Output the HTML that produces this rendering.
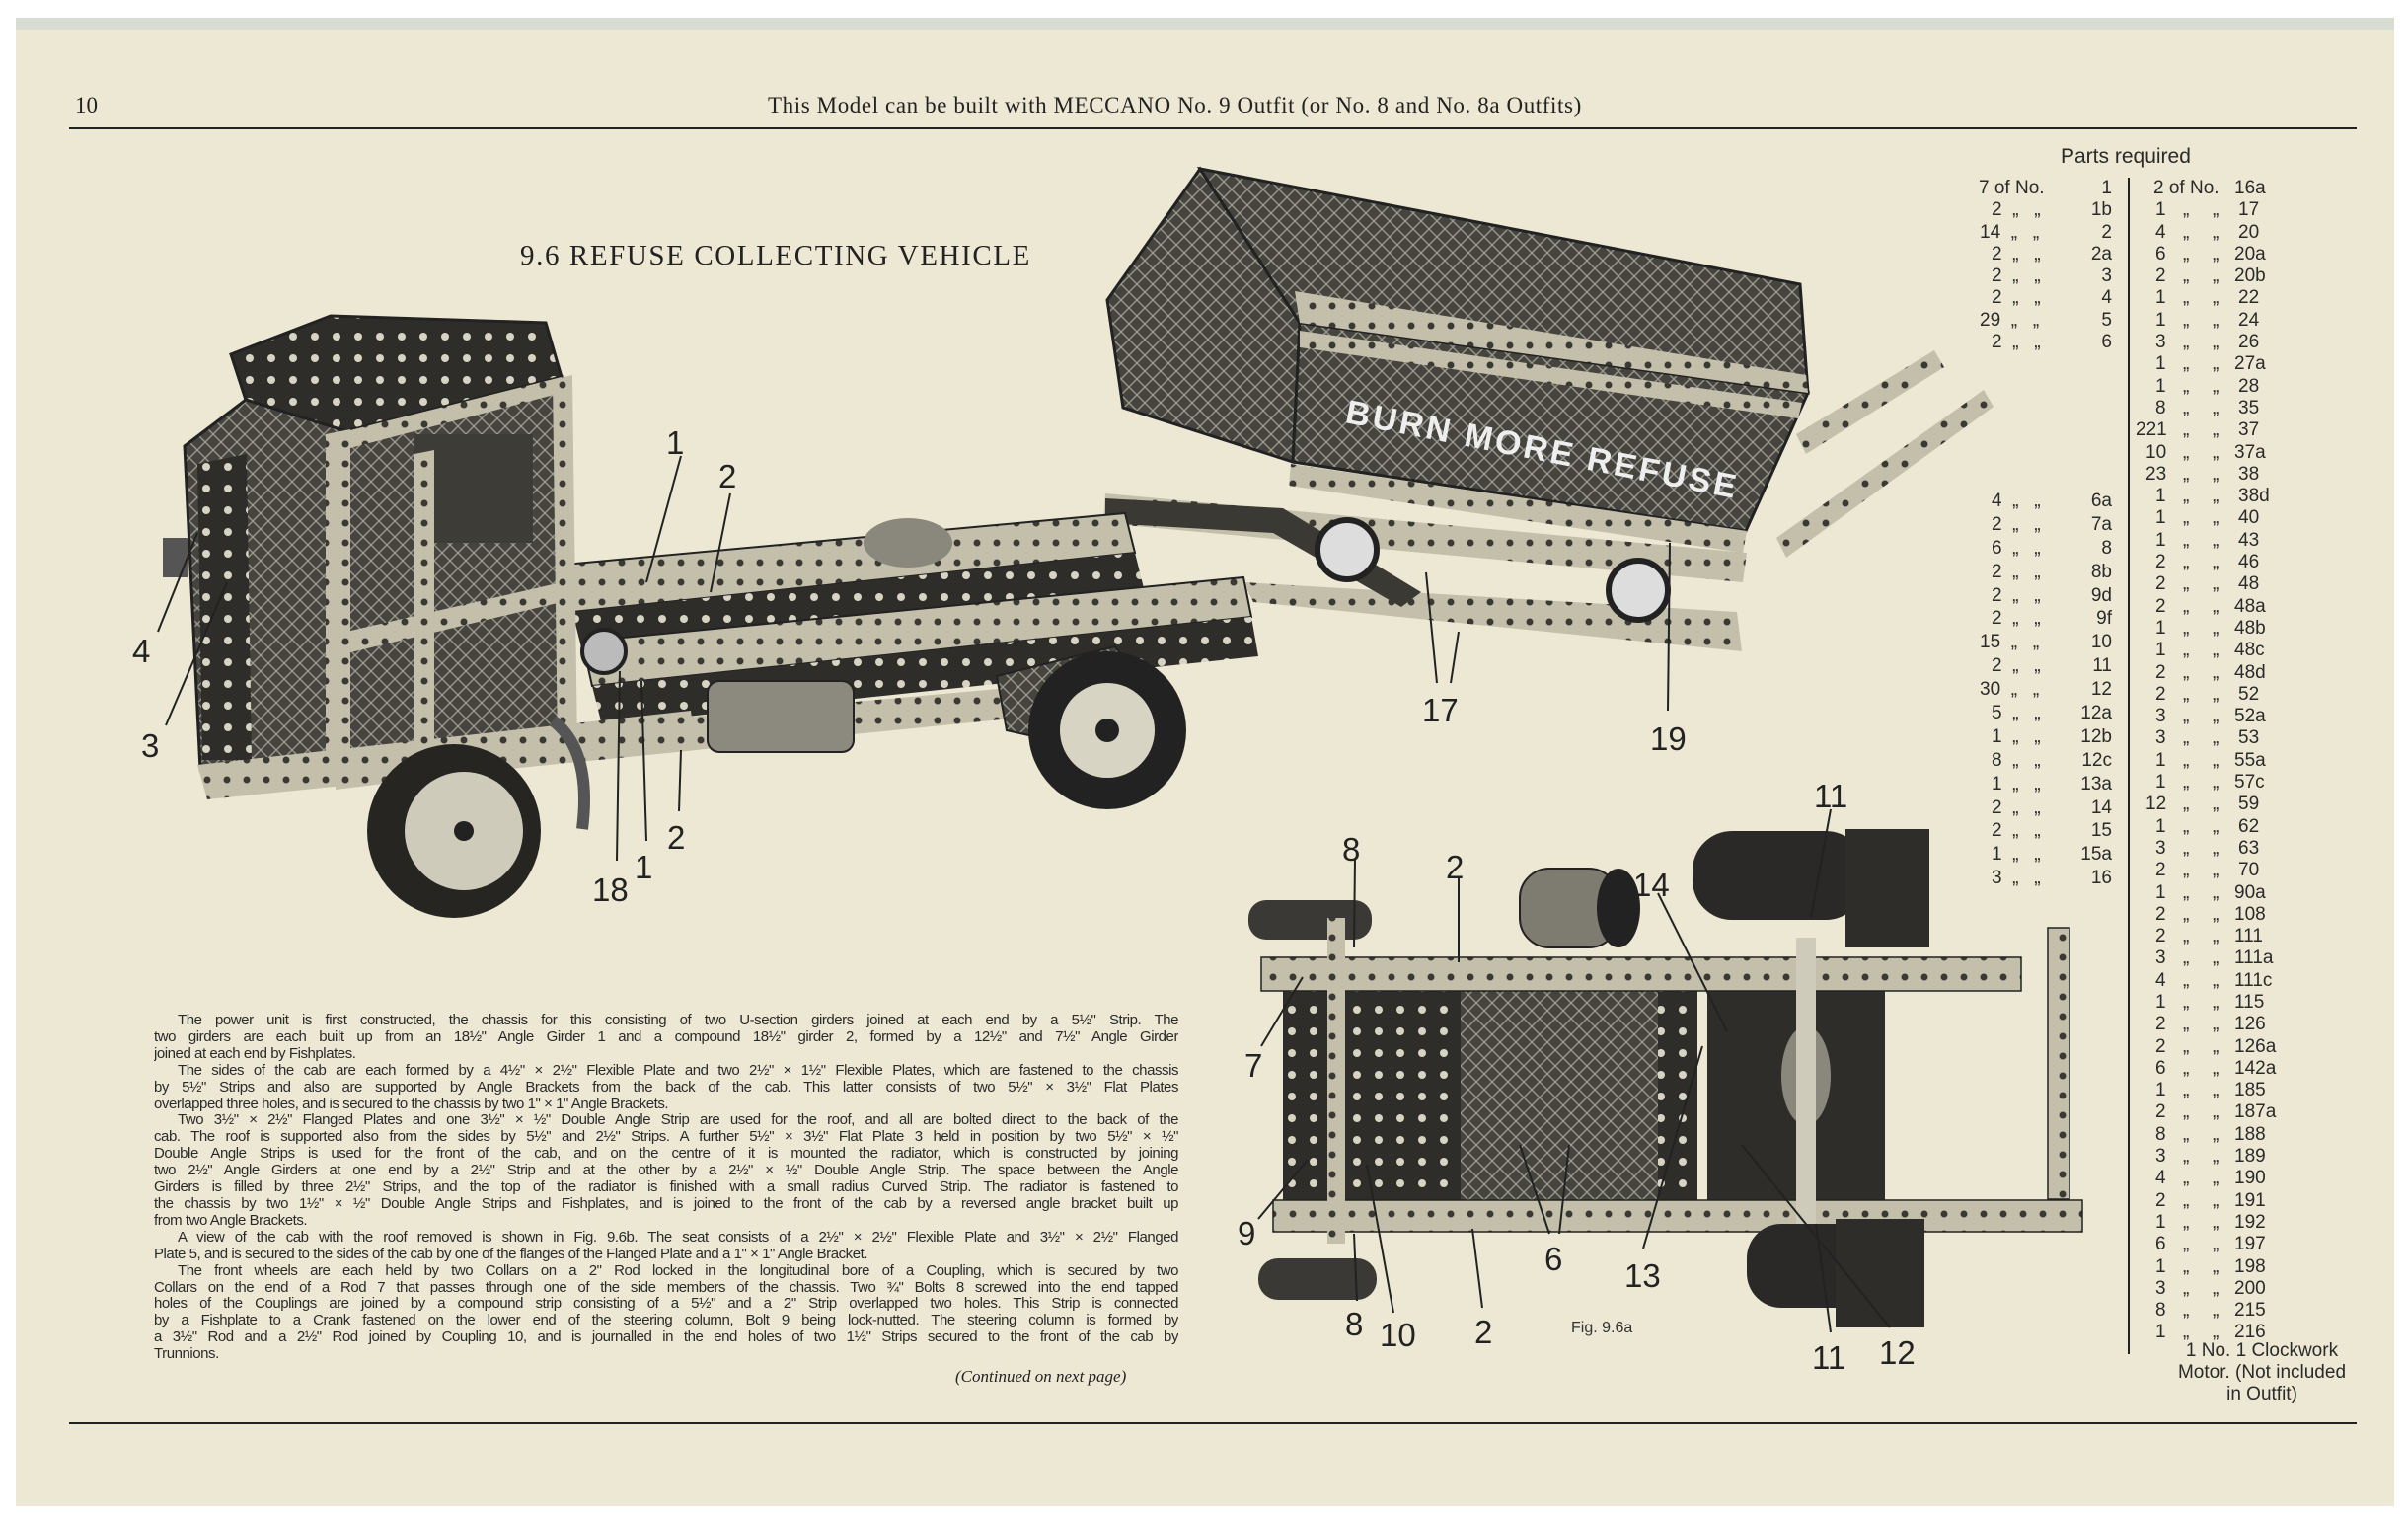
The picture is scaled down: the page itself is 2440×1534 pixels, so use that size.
<!DOCTYPE html>
<html><head><meta charset="utf-8"><style>
html,body{margin:0;padding:0;}
body{width:2440px;height:1534px;background:#fff;position:relative;overflow:hidden;font-family:"Liberation Serif",serif;}
#paper{position:absolute;left:16px;top:30px;width:2410px;height:1496px;background:#ede8d4;}
#band{position:absolute;left:16px;top:18px;width:2410px;height:18px;background:#d9dcd2;}
.abs{position:absolute;}
.rule{position:absolute;left:70px;width:2318px;height:2px;background:#222;}
#hdr{left:778px;top:94px;font-size:23px;color:#222;white-space:nowrap;letter-spacing:0.6px;}
#pg{left:76px;top:94px;font-size:23px;color:#222;}
#title{left:527px;top:243px;font-size:29px;color:#222;white-space:nowrap;letter-spacing:1.6px;}
.pr{font-family:"Liberation Sans",sans-serif;font-size:19px;color:#2a2a2a;line-height:22.3px;}
.row{position:relative;height:22.3px;white-space:nowrap;}
.q{position:absolute;right:0;text-align:right;}
#body{left:156px;top:1026px;width:1038px;font-family:"Liberation Sans",sans-serif;font-size:15px;letter-spacing:-0.45px;color:#2a2a2a;line-height:16.9px;}
#body div{text-align:justify;text-align-last:justify;white-space:nowrap;overflow:hidden;}
#body div.ind{padding-left:24px;}
#body div.last{text-align-last:left;}
.lab{font-family:"Liberation Sans",sans-serif;font-size:33px;fill:#222;}
</style></head><body>
<div id="band"></div>
<div id="paper"></div>
<div class="abs" id="pg">10</div>
<div class="abs" id="hdr">This Model can be built with MECCANO No. 9 Outfit (or No. 8 and No. 8a Outfits)</div>
<div class="rule" style="top:129px"></div>
<div class="rule" style="top:1441px"></div>
<div class="abs" id="title">9.6 REFUSE COLLECTING VEHICLE</div>

<svg class="abs" style="left:0;top:0" width="2440" height="1534" viewBox="0 0 2440 1534">
<defs>
<pattern id="mesh" width="16" height="16" patternUnits="userSpaceOnUse">
<rect width="16" height="16" fill="#45443f"/>
<path d="M0 0L16 16M16 0L0 16" stroke="#9a978b" stroke-width="1.4"/>
</pattern>
<pattern id="perf" width="22" height="22" patternUnits="userSpaceOnUse">
<rect width="22" height="22" fill="#2e2d2a"/>
<circle cx="11" cy="11" r="4" fill="#d8d4c4"/>
</pattern>
<pattern id="strip" width="20" height="20" patternUnits="userSpaceOnUse">
<rect width="20" height="20" fill="#c4bfab"/>
<circle cx="10" cy="10" r="3.5" fill="#3a3934"/>
</pattern>
</defs>
<polygon points="1122,304 1216,171 1317,327 1310,468 1138,413" fill="url(#mesh)" stroke="#222" stroke-width="3"/>
<polygon points="1216,171 1824,288 1832,398 1317,327" fill="url(#mesh)" stroke="#222" stroke-width="3"/>
<polygon points="1317,327 1832,398 1769,538 1310,468" fill="url(#mesh)" stroke="#222" stroke-width="3"/>
<polygon points="1312,295 1830,380 1832,398 1317,327" fill="url(#strip)"/>
<polygon points="1317,335 1826,408 1822,424 1317,352" fill="url(#strip)"/>
<polygon points="1308,470 1770,538 1766,560 1306,492" fill="url(#strip)"/>
<text x="1362" y="428" transform="rotate(11 1362 428)" font-family="Liberation Sans,sans-serif" font-weight="bold" font-size="34" fill="#eee" letter-spacing="3">BURN  MORE  REFUSE</text>
<polygon points="1120,500 1770,560 1766,590 1118,530" fill="url(#strip)"/>
<polygon points="1260,590 1760,620 1765,660 1270,610" fill="url(#strip)"/>
<polygon points="1120,505 1300,515 1440,600 1420,615 1290,540 1120,530" fill="#3a3934"/>
<polygon points="1820,440 1960,355 1970,372 1830,460" fill="url(#strip)"/>
<polygon points="1800,545 2010,395 2020,412 1810,565" fill="url(#strip)"/>
<circle cx="1365" cy="557" r="30" fill="#ddd" stroke="#222" stroke-width="6"/>
<circle cx="1660" cy="598" r="30" fill="#ddd" stroke="#222" stroke-width="6"/>
<polygon points="572,572 1140,520 1150,560 580,620" fill="url(#strip)" stroke="#222" stroke-width="2"/>
<polygon points="580,620 1150,560 1160,600 590,660" fill="url(#perf)"/>
<polygon points="590,650 1260,585 1268,625 600,695" fill="url(#strip)" stroke="#222" stroke-width="2"/>
<polygon points="600,695 1268,625 1275,665 610,735" fill="url(#perf)"/>
<polygon points="600,735 1100,690 1105,720 605,770" fill="url(#strip)"/>
<ellipse cx="920" cy="550" rx="45" ry="25" fill="#8a877c"/>
<rect x="717" y="690" width="148" height="72" rx="12" fill="#8c897e" stroke="#222" stroke-width="2"/>
<polygon points="1010,685 1130,655 1160,700 1110,760 1020,740" fill="url(#mesh)" stroke="#222" stroke-width="2"/>
<circle cx="1122" cy="740" r="80" fill="#222"/>
<circle cx="1122" cy="740" r="48" fill="#d8d4c4"/>
<circle cx="1122" cy="740" r="12" fill="#222"/>
<polygon points="234,359 335,320 553,327 569,382 351,437 249,405" fill="url(#perf)" stroke="#222" stroke-width="3"/>
<polygon points="351,437 569,382 577,760 351,790" fill="url(#mesh)" stroke="#222" stroke-width="3"/>
<rect x="420" y="440" width="120" height="110" fill="#3d3c37"/>
<polygon points="187,452 249,405 351,437 351,790 203,780" fill="url(#mesh)" stroke="#222" stroke-width="3"/>
<polygon points="200,470 250,460 255,770 205,770" fill="url(#perf)"/>
<polygon points="330,440 355,435 355,790 330,790" fill="url(#strip)"/>
<polygon points="560,385 580,380 585,760 565,760" fill="url(#strip)"/>
<polygon points="420,460 440,456 440,780 420,780" fill="url(#strip)"/>
<polygon points="351,437 569,382 569,398 351,455" fill="url(#strip)"/>
<polygon points="351,640 569,590 569,610 351,662" fill="url(#strip)"/>
<polygon points="340,770 580,745 580,770 340,800" fill="url(#strip)"/>
<polygon points="200,775 700,720 705,760 210,810" fill="url(#strip)"/>
<rect x="165" y="545" width="25" height="40" fill="#555"/>
<circle cx="460" cy="842" r="88" fill="#262522"/>
<circle cx="470" cy="842" r="60" fill="#cfcbbb"/>
<circle cx="470" cy="842" r="10" fill="#222"/>
<path d="M560 730 Q600 760 590 840" stroke="#555" stroke-width="12" fill="none"/>
<circle cx="612" cy="660" r="22" fill="#bbb" stroke="#222" stroke-width="4"/>

<g stroke="#222" stroke-width="2" fill="none">
<line x1="690" y1="462" x2="655" y2="590"/>
<line x1="740" y1="500" x2="720" y2="600"/>
<line x1="160" y1="640" x2="200" y2="540"/>
<line x1="168" y1="735" x2="230" y2="590"/>
<line x1="625" y1="872" x2="628" y2="680"/>
<line x1="655" y1="852" x2="650" y2="690"/>
<line x1="688" y1="822" x2="690" y2="760"/>
<line x1="1456" y1="692" x2="1445" y2="580"/>
<line x1="1470" y1="692" x2="1478" y2="640"/>
<line x1="1690" y1="720" x2="1692" y2="550"/>
</g>
<text class="lab" x="675" y="460">1</text>
<text class="lab" x="728" y="494">2</text>
<text class="lab" x="134" y="671">4</text>
<text class="lab" x="143" y="767">3</text>
<text class="lab" x="600" y="913">18</text>
<text class="lab" x="643" y="890">1</text>
<text class="lab" x="676" y="860">2</text>
<text class="lab" x="1441" y="731">17</text>
<text class="lab" x="1672" y="760">19</text>

<rect x="1540" y="880" width="100" height="80" rx="30" fill="#7e7b70" stroke="#222" stroke-width="2"/>
<ellipse cx="1640" cy="920" rx="22" ry="40" fill="#222"/>
<rect x="1715" y="842" width="175" height="90" rx="40" fill="#2a2927"/>
<rect x="1870" y="840" width="85" height="120" fill="#2e2d2a"/>
<rect x="1265" y="912" width="125" height="40" rx="18" fill="#3a3935"/>
<rect x="1300" y="985" width="420" height="235" fill="url(#perf)"/>
<rect x="1480" y="1000" width="200" height="220" fill="url(#mesh)"/>
<rect x="1730" y="985" width="180" height="250" fill="#2e2d2a"/>
<ellipse cx="1830" cy="1090" rx="25" ry="50" fill="#8a877c"/>
<rect x="1278" y="970" width="770" height="34" fill="url(#strip)" stroke="#222" stroke-width="1.5"/>
<rect x="1290" y="1216" width="820" height="32" fill="url(#strip)" stroke="#222" stroke-width="1.5"/>
<rect x="2075" y="940" width="22" height="275" fill="url(#strip)" stroke="#222" stroke-width="1.5"/>
<rect x="1820" y="950" width="20" height="290" fill="#cfcbbb"/>
<rect x="1345" y="930" width="18" height="330" fill="url(#strip)"/>
<rect x="1275" y="1275" width="120" height="42" rx="20" fill="#3a3935"/>
<rect x="1770" y="1240" width="125" height="85" rx="35" fill="#2a2927"/>
<rect x="1860" y="1235" width="90" height="110" fill="#2e2d2a"/>
<g stroke="#222" stroke-width="2" fill="none">
<line x1="1373" y1="870" x2="1372" y2="960"/>
<line x1="1478" y1="890" x2="1478" y2="975"/>
<line x1="1680" y1="905" x2="1750" y2="1045"/>
<line x1="1855" y1="820" x2="1835" y2="930"/>
<line x1="1278" y1="1060" x2="1320" y2="990"/>
<line x1="1275" y1="1235" x2="1325" y2="1175"/>
<line x1="1570" y1="1250" x2="1540" y2="1160"/>
<line x1="1580" y1="1250" x2="1590" y2="1160"/>
<line x1="1665" y1="1265" x2="1725" y2="1060"/>
<line x1="1375" y1="1318" x2="1372" y2="1250"/>
<line x1="1412" y1="1330" x2="1385" y2="1180"/>
<line x1="1502" y1="1325" x2="1492" y2="1245"/>
<line x1="1855" y1="1350" x2="1840" y2="1240"/>
<line x1="1915" y1="1345" x2="1765" y2="1160"/>
</g>
<text class="lab" x="1360" y="872">8</text>
<text class="lab" x="1465" y="890">2</text>
<text class="lab" x="1655" y="908">14</text>
<text class="lab" x="1838" y="818">11</text>
<text class="lab" x="1261" y="1091">7</text>
<text class="lab" x="1254" y="1261">9</text>
<text class="lab" x="1565" y="1287">6</text>
<text class="lab" x="1646" y="1304">13</text>
<text class="lab" x="1363" y="1353">8</text>
<text class="lab" x="1398" y="1364">10</text>
<text class="lab" x="1494" y="1361">2</text>
<text class="lab" x="1836" y="1387">11</text>
<text class="lab" x="1904" y="1382">12</text>
<text x="1592" y="1350" font-family="Liberation Sans,sans-serif" font-size="16" fill="#333">Fig. 9.6a</text>
<line x1="2157" y1="180" x2="2157" y2="1372" stroke="#222" stroke-width="2"/>
</svg>

<div class="abs pr" style="left:2088px;top:148px;font-size:21px">Parts required</div>
<div class="abs pr" style="left:2000px;top:180px;width:140px">
<div class="row"><span style="position:absolute;left:5px">7 of No.</span><span class="q">1</span></div>
<div class="row"><span style="position:absolute;left:18px">2 &nbsp;„ &nbsp; „</span><span class="q">1b</span></div>
<div class="row"><span style="position:absolute;left:6px">14 &nbsp;„ &nbsp; „</span><span class="q">2</span></div>
<div class="row"><span style="position:absolute;left:18px">2 &nbsp;„ &nbsp; „</span><span class="q">2a</span></div>
<div class="row"><span style="position:absolute;left:18px">2 &nbsp;„ &nbsp; „</span><span class="q">3</span></div>
<div class="row"><span style="position:absolute;left:18px">2 &nbsp;„ &nbsp; „</span><span class="q">4</span></div>
<div class="row"><span style="position:absolute;left:6px">29 &nbsp;„ &nbsp; „</span><span class="q">5</span></div>
<div class="row"><span style="position:absolute;left:18px">2 &nbsp;„ &nbsp; „</span><span class="q">6</span></div>
</div>
<div class="abs pr" style="left:2000px;top:496px;width:140px;line-height:23.9px">
<div class="row" style="height:23.9px"><span style="position:absolute;left:18px">4 &nbsp;„ &nbsp; „</span><span class="q">6a</span></div>
<div class="row" style="height:23.9px"><span style="position:absolute;left:18px">2 &nbsp;„ &nbsp; „</span><span class="q">7a</span></div>
<div class="row" style="height:23.9px"><span style="position:absolute;left:18px">6 &nbsp;„ &nbsp; „</span><span class="q">8</span></div>
<div class="row" style="height:23.9px"><span style="position:absolute;left:18px">2 &nbsp;„ &nbsp; „</span><span class="q">8b</span></div>
<div class="row" style="height:23.9px"><span style="position:absolute;left:18px">2 &nbsp;„ &nbsp; „</span><span class="q">9d</span></div>
<div class="row" style="height:23.9px"><span style="position:absolute;left:18px">2 &nbsp;„ &nbsp; „</span><span class="q">9f</span></div>
<div class="row" style="height:23.9px"><span style="position:absolute;left:6px">15 &nbsp;„ &nbsp; „</span><span class="q">10</span></div>
<div class="row" style="height:23.9px"><span style="position:absolute;left:18px">2 &nbsp;„ &nbsp; „</span><span class="q">11</span></div>
<div class="row" style="height:23.9px"><span style="position:absolute;left:6px">30 &nbsp;„ &nbsp; „</span><span class="q">12</span></div>
<div class="row" style="height:23.9px"><span style="position:absolute;left:18px">5 &nbsp;„ &nbsp; „</span><span class="q">12a</span></div>
<div class="row" style="height:23.9px"><span style="position:absolute;left:18px">1 &nbsp;„ &nbsp; „</span><span class="q">12b</span></div>
<div class="row" style="height:23.9px"><span style="position:absolute;left:18px">8 &nbsp;„ &nbsp; „</span><span class="q">12c</span></div>
<div class="row" style="height:23.9px"><span style="position:absolute;left:18px">1 &nbsp;„ &nbsp; „</span><span class="q">13a</span></div>
<div class="row" style="height:23.9px"><span style="position:absolute;left:18px">2 &nbsp;„ &nbsp; „</span><span class="q">14</span></div>
<div class="row" style="height:23.9px"><span style="position:absolute;left:18px">2 &nbsp;„ &nbsp; „</span><span class="q">15</span></div>
<div class="row" style="height:23.9px"><span style="position:absolute;left:18px">1 &nbsp;„ &nbsp; „</span><span class="q">15a</span></div>
<div class="row" style="height:23.9px"><span style="position:absolute;left:18px">3 &nbsp;„ &nbsp; „</span><span class="q">16</span></div>
</div>
<div class="abs pr" id="c2" style="left:2172px;top:180px;width:140px">
<div class="row"><span style="position:absolute;left:10px">2 of No.</span><span style="position:absolute;left:92px">16a</span></div>
</div>
<div class="abs pr" style="left:2172px;top:1358px;width:240px;text-align:center;line-height:22px">1 No. 1 Clockwork<br>Motor. (Not included<br>in Outfit)</div>

<div class="abs" id="body">
<div class="ind">The power unit is first constructed, the chassis for this consisting of two U-section girders joined at each end by a 5½" Strip. The</div>
<div>two girders are each built up from an 18½" Angle Girder 1 and a compound 18½" girder 2, formed by a 12½" and 7½" Angle Girder</div>
<div class="last">joined at each end by Fishplates.</div>
<div class="ind">The sides of the cab are each formed by a 4½" × 2½" Flexible Plate and two 2½" × 1½" Flexible Plates, which are fastened to the chassis</div>
<div>by 5½" Strips and also are supported by Angle Brackets from the back of the cab. This latter consists of two 5½" × 3½" Flat Plates</div>
<div class="last">overlapped three holes, and is secured to the chassis by two 1" × 1" Angle Brackets.</div>
<div class="ind">Two 3½" × 2½" Flanged Plates and one 3½" × ½" Double Angle Strip are used for the roof, and all are bolted direct to the back of the</div>
<div>cab. The roof is supported also from the sides by 5½" and 2½" Strips. A further 5½" × 3½" Flat Plate 3 held in position by two 5½" × ½"</div>
<div>Double Angle Strips is used for the front of the cab, and on the centre of it is mounted the radiator, which is constructed by joining</div>
<div>two 2½" Angle Girders at one end by a 2½" Strip and at the other by a 2½" × ½" Double Angle Strip. The space between the Angle</div>
<div>Girders is filled by three 2½" Strips, and the top of the radiator is finished with a small radius Curved Strip. The radiator is fastened to</div>
<div>the chassis by two 1½" × ½" Double Angle Strips and Fishplates, and is joined to the front of the cab by a reversed angle bracket built up</div>
<div class="last">from two Angle Brackets.</div>
<div class="ind">A view of the cab with the roof removed is shown in Fig. 9.6b. The seat consists of a 2½" × 2½" Flexible Plate and 3½" × 2½" Flanged</div>
<div class="last">Plate 5, and is secured to the sides of the cab by one of the flanges of the Flanged Plate and a 1" × 1" Angle Bracket.</div>
<div class="ind">The front wheels are each held by two Collars on a 2" Rod locked in the longitudinal bore of a Coupling, which is secured by two</div>
<div>Collars on the end of a Rod 7 that passes through one of the side members of the chassis. Two ¾" Bolts 8 screwed into the end tapped</div>
<div>holes of the Couplings are joined by a compound strip consisting of a 5½" and a 2" Strip overlapped two holes. This Strip is connected</div>
<div>by a Fishplate to a Crank fastened on the lower end of the steering column, Bolt 9 being lock-nutted. The steering column is formed by</div>
<div>a 3½" Rod and a 2½" Rod joined by Coupling 10, and is journalled in the end holes of two 1½" Strips secured to the front of the cab by</div>
<div class="last">Trunnions.</div>
</div>
<div class="abs" style="left:968px;top:1385px;font-size:17px;font-style:italic;color:#222">(Continued on next page)</div>

<script>
(function(){
var q=[1,4,6,2,1,1,3,1,1,8,221,10,23,1,1,1,2,2,2,1,1,2,2,3,3,1,1,12,1,3,2,1,2,2,3,4,1,2,2,6,1,2,8,3,4,2,1,6,1,3,8,1];
var n=["17","20","20a","20b","22","24","26","27a","28","35","37","37a","38","38d","40","43","46","48","48a","48b","48c","48d","52","52a","53","55a","57c","59","62","63","70","90a","108","111","111a","111c","115","126","126a","142a","185","187a","188","189","190","191","192","197","198","200","215","216"];
var c=document.getElementById('c2'),h='';
for(var i=0;i<n.length;i++){var s=String(q[i]);var l=s.length==1?12:(s.length==2?2:-8);
h+='<div class="row"><span style="position:absolute;left:'+l+'px">'+s+'</span><span style="position:absolute;left:40px">„</span><span style="position:absolute;left:70px">„</span><span style="position:absolute;left:'+(n[i].length>=3&&n[i]!="38d"?92:96)+'px">'+n[i]+'</span></div>';}
c.innerHTML+=h;})();
</script>
</body></html>
